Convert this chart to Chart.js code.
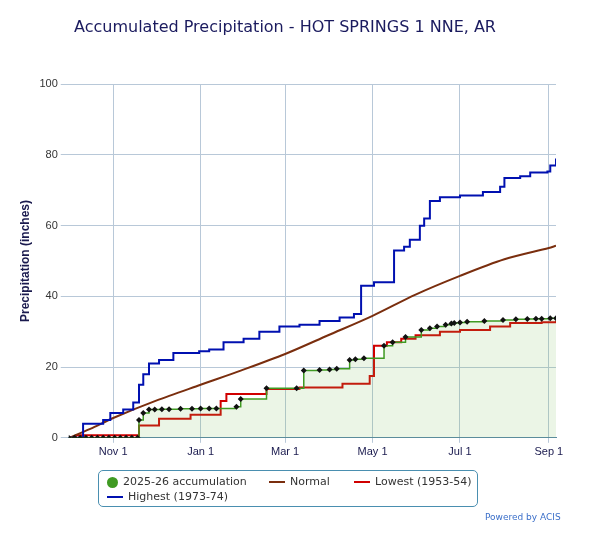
<!DOCTYPE html>
<html><head><meta charset="utf-8">
<script src="https://cdn.jsdelivr.net/npm/chart.js@4"></script>
<style>
body{margin:0;background:#fff;font-family:"Lucida Grande","DejaVu Sans",sans-serif;}
#wrap{position:relative;width:597px;height:534px;}
#lg{position:absolute;left:98px;top:470px;width:378px;height:35px;border:1px solid #4a8fb0;border-radius:5px;font-size:11px;color:#333;}
.it{position:absolute;white-space:nowrap;}
.ln{display:inline-block;width:16px;height:2px;vertical-align:middle;margin-right:5px;}
.dot{display:inline-block;width:11px;height:11px;border-radius:50%;background:#3f9a22;vertical-align:middle;margin-right:5px;}
#pw{position:absolute;left:485px;top:512px;font-size:9px;color:#3b6fc9;}
</style></head><body>
<div id="wrap"><canvas id="c" width="597" height="534"></canvas>
<div id="lg">
<div class="it" style="left:8px;top:4px"><span class="dot"></span>2025-26 accumulation</div>
<div class="it" style="left:170px;top:4px"><span class="ln" style="background:#7a2e0e"></span>Normal</div>
<div class="it" style="left:255px;top:4px"><span class="ln" style="background:#d00000"></span>Lowest (1953-54)</div>
<div class="it" style="left:8px;top:19px"><span class="ln" style="background:#0010b0"></span>Highest (1973-74)</div>
</div>
<div id="pw">Powered by ACIS</div></div>
<script>
const tickDays=[31,92,151,212,273,335];
const tickLabels=['Nov 1','Jan 1','Mar 1','May 1','Jul 1','Sep 1'];
const highDays=[0,10,24,29,38,45,49,52,56,63,73,91,98,108,122,133,147,161,175,189,199,204,213,227,234,238,245,248,252,259,273,289,301,304,315,322,334,336,340];
const highVals=[0,4,5,7,8,10,15,18,21,22,24,24.5,25,27,28,30,31.5,32,33,34,35,43,44,53,54,56,60,62,67,68,68.5,69.5,71,73.5,74,75,75.3,77,79];
const normDays=[0,15,31,61,92,120,151,181,212,242,273,304,335,340];
const normVals=[0,2.5,5.6,10.5,15,19,23.7,29,34.5,40.5,45.8,50.5,53.7,54.3];
const lowDays=[0,5,49,63,85,106,110,138,161,191,210,213,222,232,242,259,273,294,308,330,340];
const lowVals=[0,0.7,3.5,5.4,6.5,10.4,12.4,13.8,14.2,15.3,17.5,26,27,28,29,30,30.5,31.5,32.5,32.7,33];
const curDays=[0,4,8,12,16,20,24,28,32,36,40,44,48,49,52,56,60,65,70,78,86,92,98,103,117,120,138,159,164,175,182,187,196,200,206,220,226,235,246,252,257,263,267,269,273,278,290,303,312,320,326,330,336,340];
const curVals=[0,0,0,0,0,0,0,0,0,0,0,0,0,5,7,8,8,8.1,8.1,8.2,8.2,8.3,8.3,8.3,8.8,11,14,14,19,19.2,19.3,19.5,22,22.2,22.5,26,27,28.5,30.5,31,31.5,32,32.3,32.5,32.6,32.8,33,33.3,33.5,33.6,33.7,33.7,33.8,33.8];
const pts=(d,v)=>d.map((x,i)=>({x:x,y:v[i]}));
new Chart(document.getElementById('c'),{
 type:'line',
 data:{datasets:[
  {label:'Highest',data:pts(highDays,highVals),borderColor:'#0010b0',borderWidth:2,stepped:true,pointRadius:0,order:1},
  {label:'Normal',data:pts(normDays,normVals),borderColor:'#7a2e0e',borderWidth:2,tension:0.3,pointRadius:0,order:2},
  {label:'Lowest',data:pts(lowDays,lowVals),borderColor:'#d00000',borderWidth:2,stepped:true,pointRadius:0,order:3},
  {label:'2025-26',data:pts(curDays,curVals),borderColor:'#3f9a22',borderWidth:1.5,stepped:true,fill:'origin',backgroundColor:'rgba(120,190,90,0.15)',pointStyle:'rectRot',pointRadius:3,pointBackgroundColor:'#111',pointBorderColor:'#111',pointBorderWidth:0,order:0}
 ]},
 options:{responsive:false,animation:false,
  layout:{padding:{left:14,right:41,top:14,bottom:72}},
  plugins:{legend:{display:false},tooltip:{enabled:false},
   title:{display:true,text:'Accumulated Precipitation - HOT SPRINGS 1 NNE, AR',color:'#1a1a5e',font:{size:16,family:'DejaVu Sans',weight:'normal'},padding:{top:4,bottom:47}}},
  scales:{
   x:{type:'linear',min:0,max:340,
    afterBuildTicks:a=>{a.ticks=tickDays.map(v=>({value:v}));},
    ticks:{callback:v=>tickLabels[tickDays.indexOf(v)],color:'#1a1a4e',font:{size:11},maxRotation:0,autoSkip:false},
    grid:{color:'#b8c8d8',drawTicks:true,tickLength:5},border:{color:'#5a8aa0'}},
   y:{min:0,max:100,ticks:{stepSize:20,color:'#333',font:{size:11}},
    title:{display:true,text:'Precipitation (inches)',color:'#1a1a4e',font:{size:12,weight:'bold'}},
    grid:{color:'#b8c8d8'},border:{display:false}}
  }}
});
</script></body></html>
